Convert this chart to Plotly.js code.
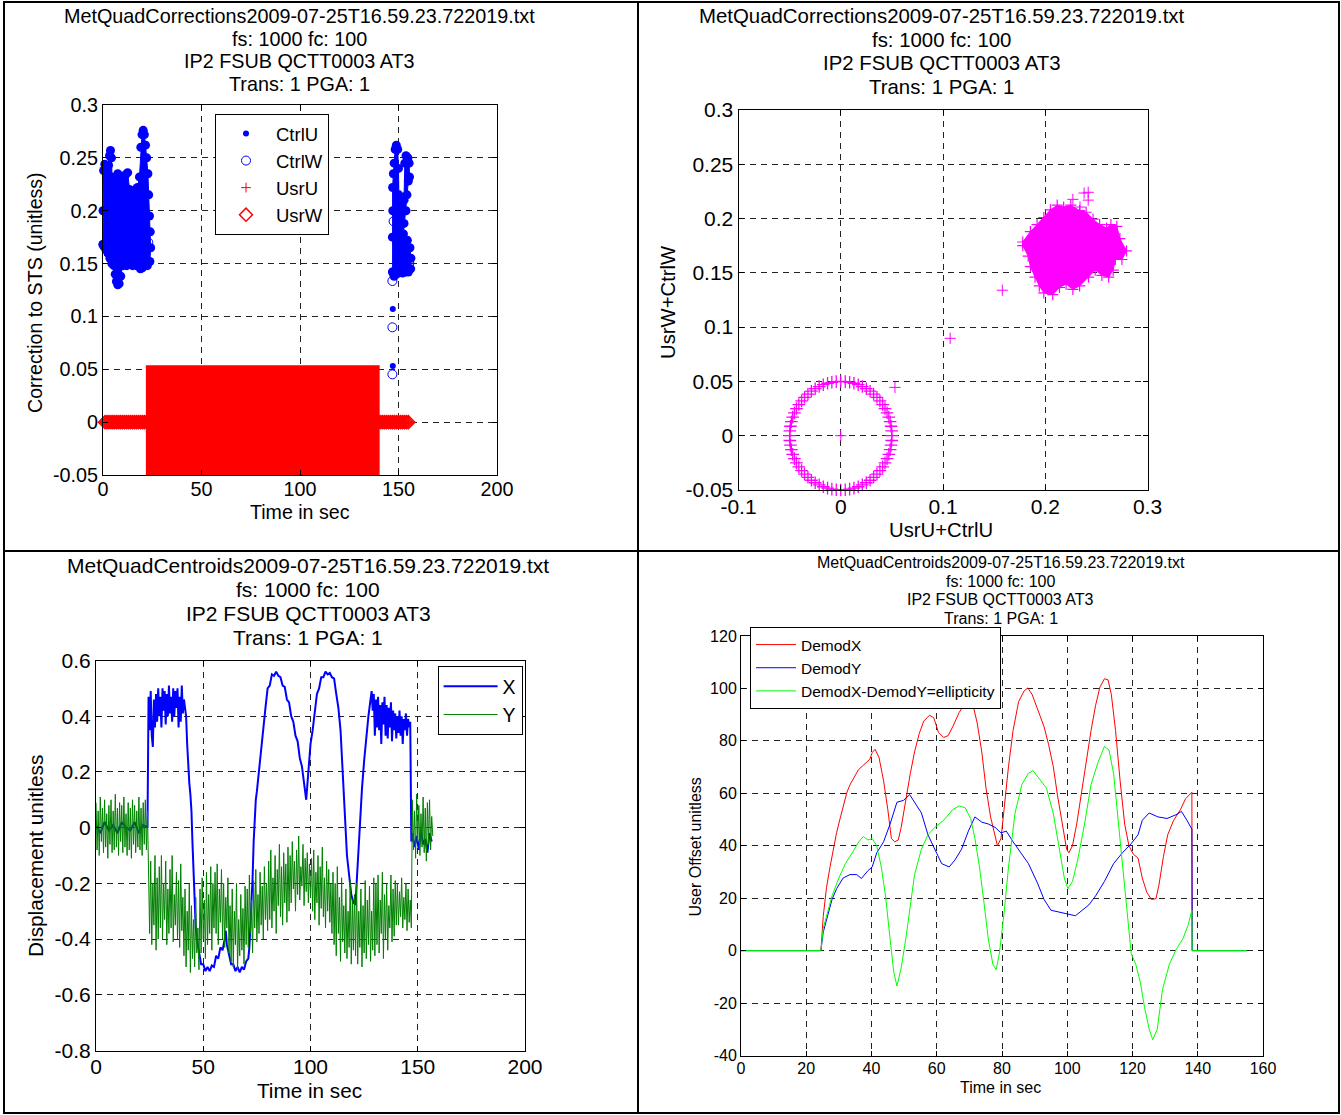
<!DOCTYPE html>
<html>
<head>
<meta charset="utf-8">
<script src="https://cdn.plot.ly/plotly-3.0.1.min.js"></script>
<style>
html,body{margin:0;padding:0;background:#fff;}
#chart{width:1341px;height:1115px;}
</style>
</head>
<body>
<div id="chart"></div>
<script>
// ================= DATA =================
const titleCorrections = ["MetQuadCorrections2009-07-25T16.59.23.722019.txt", "fs: 1000 fc: 100", "IP2 FSUB QCTT0003 AT3", "Trans: 1 PGA: 1"];
const titleCentroids = ["MetQuadCentroids2009-07-25T16.59.23.722019.txt", "fs: 1000 fc: 100", "IP2 FSUB QCTT0003 AT3", "Trans: 1 PGA: 1"];

// --- Panel 1: corrections vs time ---
// dense CtrlU cloud outlines (time, value)
const ctrlULeftT = [0, 0, 0.3, 0.9, 1.8, 2.8, 3.3, 3.8, 4.3, 4.6, 5.5, 6.5, 7.5, 8.5, 9.5, 10.5, 11.5, 12.5, 13.5, 14.5, 15.5, 16.5, 17.5, 18.5, 19.2, 19.8, 20.4, 21.0, 21.6, 22.2, 22.8, 23.2, 23.6, 24.0, 24.2, 23.8, 22.5, 21.0, 20.0, 19.0, 18.0, 17.0, 16.0, 15.0, 14.0, 13.0, 12.0, 11.0, 10.0, 9.0, 8.2, 7.5, 6.8, 6.2, 5.5, 4.5, 3.5, 2.5, 1.5, 0.5];
const ctrlULeftV = [0.168, 0.2, 0.238, 0.244, 0.24, 0.243, 0.252, 0.257, 0.25, 0.232, 0.226, 0.23, 0.235, 0.232, 0.226, 0.228, 0.234, 0.236, 0.22, 0.214, 0.21, 0.22, 0.222, 0.232, 0.26, 0.272, 0.276, 0.272, 0.262, 0.25, 0.235, 0.215, 0.195, 0.18, 0.165, 0.152, 0.148, 0.15, 0.146, 0.145, 0.15, 0.148, 0.152, 0.148, 0.15, 0.152, 0.148, 0.152, 0.148, 0.138, 0.131, 0.13, 0.133, 0.14, 0.148, 0.15, 0.155, 0.16, 0.163, 0.166];
const ctrlURightT = [147.0, 146.9, 147.1, 147.0, 147.4, 147.8, 148.3, 148.9, 149.6, 150.0, 150.2, 151.0, 152.2, 152.8, 153.2, 153.8, 154.8, 155.4, 155.6, 155.0, 154.3, 153.8, 152.8, 152.5, 154.5, 155.8, 156.3, 156.2, 155.0, 153.5, 152.0, 150.5, 149.0, 147.8];
const ctrlURightV = [0.142, 0.175, 0.2, 0.222, 0.235, 0.245, 0.258, 0.262, 0.258, 0.24, 0.215, 0.205, 0.2, 0.21, 0.245, 0.252, 0.25, 0.245, 0.232, 0.228, 0.215, 0.2, 0.188, 0.178, 0.172, 0.165, 0.155, 0.145, 0.142, 0.142, 0.141, 0.142, 0.14, 0.138];
const ctrlUIsoT = [147.1, 147.1];
const ctrlUIsoV = [0.107, 0.053];
const ctrlWT = [1, 3, 5, 7, 9, 11, 13, 15, 17, 19, 21, 23, 147.5, 148.5, 149.5, 150.5, 151.5, 152.5, 153.5, 154.5, 155.5, 146.9, 146.9, 146.9];
const ctrlWV = [0.2, 0.19, 0.18, 0.17, 0.19, 0.18, 0.17, 0.18, 0.19, 0.2, 0.18, 0.17, 0.19, 0.2, 0.21, 0.19, 0.17, 0.16, 0.16, 0.155, 0.15, 0.1335, 0.0897, 0.0452];
// UsrU / UsrW: fast oscillation span (start/end time, min/max value) and idle (zero) samples
const usrOscT = [23.8, 138.4];
const usrOscRange = [-0.05, 0.05];
const usrIdleT = [1, 2, 3, 4, 5, 6, 7, 8, 9, 10, 11, 12, 13, 14, 15, 16, 17, 18, 19, 20, 21, 22, 23, 139, 140, 141, 142, 143, 144, 145, 146, 147, 148, 149, 150, 151, 152, 153, 154, 155];
const usrUIdleV = [0, 0, 0, 0, 0, 0, 0, 0, 0, 0, 0, 0, 0, 0, 0, 0, 0, 0, 0, 0, 0, 0, 0, 0, 0, 0, 0, 0, 0, 0, 0, 0, 0, 0, 0, 0, 0, 0, 0, 0];
const usrWIdleV = [0, 0, 0, 0, 0, 0, 0, 0, 0, 0, 0, 0, 0, 0, 0, 0, 0, 0, 0, 0, 0, 0, 0, 0, 0, 0, 0, 0, 0, 0, 0, 0, 0, 0, 0, 0, 0, 0, 0, 0];

// --- Panel 2: UsrU+CtrlU vs UsrW+CtrlW ---
const sumRingU = [0.05,0.0498,0.0492,0.0483,0.047,0.0453,0.0433,0.041,0.0383,0.0354,0.0321,0.0287,0.025,0.0211,0.0171,0.0129,0.0087,0.0044,0,-0.0044,-0.0087,-0.0129,-0.0171,-0.0211,-0.025,-0.0287,-0.0321,-0.0354,-0.0383,-0.041,-0.0433,-0.0453,-0.047,-0.0483,-0.0492,-0.0498,-0.05,-0.0498,-0.0492,-0.0483,-0.047,-0.0453,-0.0433,-0.041,-0.0383,-0.0354,-0.0321,-0.0287,-0.025,-0.0211,-0.0171,-0.0129,-0.0087,-0.0044,0,0.0044,0.0087,0.0129,0.0171,0.0211,0.025,0.0287,0.0321,0.0354,0.0383,0.041,0.0433,0.0453,0.047,0.0483,0.0492,0.0498];
const sumRingW = [0,0.0044,0.0087,0.0129,0.0171,0.0211,0.025,0.0287,0.0321,0.0354,0.0383,0.041,0.0433,0.0453,0.047,0.0483,0.0492,0.0498,0.05,0.0498,0.0492,0.0483,0.047,0.0453,0.0433,0.041,0.0383,0.0354,0.0321,0.0287,0.025,0.0211,0.0171,0.0129,0.0087,0.0044,0,-0.0044,-0.0087,-0.0129,-0.0171,-0.0211,-0.025,-0.0287,-0.0321,-0.0354,-0.0383,-0.041,-0.0433,-0.0453,-0.047,-0.0483,-0.0492,-0.0498,-0.05,-0.0498,-0.0492,-0.0483,-0.047,-0.0453,-0.0433,-0.041,-0.0383,-0.0354,-0.0321,-0.0287,-0.025,-0.0211,-0.0171,-0.0129,-0.0087,-0.0044];
const sumCloudU = [0.178,0.1855,0.192,0.1986,0.205,0.2117,0.218,0.225,0.2336,0.24,0.2467,0.2532,0.26,0.2642,0.27,0.273,0.2795,0.275,0.2685,0.2664,0.262,0.2554,0.2488,0.2423,0.2336,0.227,0.2204,0.2139,0.2073,0.1986,0.1942,0.19,0.1855,0.1833,0.178];
const sumCloudW = [0.1784,0.188,0.1945,0.201,0.208,0.2123,0.2106,0.2123,0.2074,0.2058,0.1994,0.1945,0.1913,0.1945,0.1929,0.1816,0.1703,0.1623,0.1623,0.1526,0.1461,0.1477,0.1526,0.1461,0.138,0.1348,0.1397,0.1365,0.13,0.1316,0.138,0.1461,0.1558,0.1655,0.175];
const sumIsoU = [0, 0.053, 0.107, 0.158, 0.227, 0.234, 0.238, 0.242, 0.242];
const sumIsoW = [0, 0.0445, 0.0897, 0.134, 0.2177, 0.2106, 0.2235, 0.2242, 0.217];

// --- Panel 3: centroid displacement ---
const centroidX = [
[0,0.01],[2,-0.02],[4,0.02],[6,-0.01],[8,0.01],[10,-0.02],[12,0.02],[14,0],[16,-0.01],[18,0.02],[20,-0.02],[22,0.01],[24,0],
[24.2,0.4],
[24.5,0.47],[25,0.35],[25.5,0.49],[26,0.33],[26.5,0.29],[27,0.46],[27.5,0.36],[28,0.48],[28.5,0.38],[29,0.5],[29.5,0.4],[30,0.47],[30.5,0.36],[31,0.5],[31.5,0.42],[32,0.49],[32.5,0.37],[33,0.48],[33.5,0.4],[34,0.51],[34.5,0.41],[35,0.47],[35.5,0.38],[36,0.5],[36.5,0.4],[37,0.49],[37.5,0.43],[38,0.5],[38.5,0.36],[39,0.47],[39.5,0.38],[40,0.51],[40.5,0.41],[41,0.46],[41.5,0.43],
[42,0.4],[42.5,0.3],[43,0.2],[43.5,0.16],[44,0.12],[44.5,0.06],[45,-0.06],[45.5,-0.18],[46,-0.3],[46.5,-0.36],[47,-0.4],
[48,-0.44],[49,-0.49],[50,-0.49],[51,-0.515],[52,-0.5],[53,-0.515],[54,-0.495],[55,-0.5],[56,-0.46],[57,-0.47],[58,-0.43],[59,-0.44],[60,-0.4],[60.5,-0.37],[61,-0.42],
[62,-0.45],[63,-0.49],[64,-0.49],[65,-0.515],[66,-0.5],[67,-0.52],[68,-0.5],[69,-0.51],[70,-0.48],[71,-0.47],
[71.5,-0.43],[72,-0.35],[72.5,-0.25],[73,-0.18],[73.5,-0.05],[74,0.05],[74.5,0.1],[75,0.13],
[76,0.21],[77,0.27],[78,0.37],[79,0.43],[80,0.5],[81,0.51],[82,0.55],[83,0.545],[84,0.56],[85,0.545],[86,0.54],[87,0.51],[88,0.505],[89,0.46],[90,0.45],[91,0.4],[92,0.38],[93,0.33],[94,0.31],[95,0.25],[96,0.22],[97,0.15],
[97.5,0.12],[98,0.1],[98.5,0.15],[99,0.2],[99.5,0.25],[100,0.3],
[101,0.35],[102,0.41],[103,0.48],[104,0.5],[105,0.54],[106,0.54],[107,0.56],[108,0.55],[109,0.555],[110,0.54],[111,0.535],[112,0.48],[113,0.43],
[114,0.35],[114.5,0.27],[115,0.2],[115.5,0.1],[116,0.03],[116.5,-0.05],[117,-0.1],
[118,-0.17],[119,-0.24],[120,-0.27],[121,-0.275],[121.5,-0.2],[122,-0.13],[123,0],[124,0.14],[125,0.24],[126,0.33],[127,0.4],[128,0.46],
[128.5,0.49],[129,0.42],[129.5,0.48],[130,0.33],[130.5,0.46],[131,0.36],[131.5,0.47],[132,0.35],[132.5,0.44],[133,0.3],[133.5,0.45],[134,0.37],[134.5,0.47],[135,0.33],[135.5,0.44],[136,0.32],[136.5,0.43],[137,0.36],[137.5,0.45],[138,0.31],[138.5,0.42],[139,0.35],[139.5,0.41],[140,0.32],[140.5,0.4],[141,0.34],[141.5,0.42],[142,0.33],[142.5,0.4],[143,0.3],[143.5,0.39],[144,0.35],[144.5,0.41],[145,0.33],[145.5,0.39],[146,0.36],[146.5,0.38],
[147,-0.05],
[147.5,-0.02],[148.5,-0.07],[149.5,-0.03],[150.5,-0.08],[151.5,-0.01],[152.5,-0.06],[153.5,-0.04],[154.5,-0.09],[155.5,-0.02],[156.5,-0.05]
];
// Y sampled every 0.5 s from t = 0
const centroidYStep = 0.5;
const centroidY = [
0.09,-0.08,0.06,-0.1,0.11,-0.05,0.07,-0.09,0.1,-0.07,
0.05,-0.11,0.08,-0.06,0.1,-0.09,0.06,-0.08,0.12,-0.07,
0.07,-0.1,0.09,-0.05,0.08,-0.09,0.11,-0.07,0.05,-0.1,
0.09,-0.08,0.07,-0.11,0.1,-0.06,0.08,-0.09,0.06,-0.07,
0.11,-0.08,0.07,-0.1,0.09,-0.06,0.1,-0.08,0.06,
-0.15,-0.38,-0.12,-0.42,-0.2,-0.35,-0.1,-0.44,-0.18,-0.4,-0.14,-0.36,
-0.1,-0.4,-0.2,-0.33,-0.12,-0.42,-0.22,-0.38,-0.15,-0.36,-0.1,-0.41,-0.24,-0.35,-0.16,-0.4,-0.19,-0.43,-0.13,-0.37,
-0.25,-0.46,-0.22,-0.5,-0.3,-0.44,-0.2,-0.52,-0.28,-0.47,-0.33,-0.5,-0.25,-0.45,-0.36,-0.51,
-0.22,-0.45,-0.18,-0.4,-0.26,-0.47,-0.16,-0.42,-0.24,-0.38,-0.14,-0.44,-0.2,-0.36,
-0.16,-0.38,-0.13,-0.42,-0.22,-0.34,-0.15,-0.4,-0.2,-0.43,-0.25,-0.36,-0.18,-0.45,
-0.28,-0.48,-0.22,-0.5,-0.3,-0.42,-0.2,-0.51,-0.33,-0.46,-0.24,-0.44,-0.29,-0.49,-0.21,-0.42,
-0.22,-0.43,-0.17,-0.38,-0.26,-0.45,-0.19,-0.36,-0.15,-0.41,-0.24,-0.38,-0.16,-0.35,-0.21,-0.4,-0.14,-0.33,-0.2,-0.37,
-0.12,-0.33,-0.08,-0.36,-0.18,-0.3,-0.1,-0.38,-0.15,-0.28,-0.06,-0.32,-0.14,-0.35,-0.09,-0.27,-0.13,-0.34,-0.07,-0.3,
-0.1,-0.27,-0.05,-0.22,-0.12,-0.3,-0.08,-0.24,-0.03,-0.26,-0.14,-0.21,-0.06,-0.28,-0.11,-0.23,-0.09,-0.27,-0.13,-0.25,
-0.11,-0.3,-0.08,-0.33,-0.16,-0.27,-0.1,-0.35,-0.14,-0.29,-0.07,-0.32,-0.18,-0.36,-0.12,-0.3,-0.15,-0.34,-0.2,-0.38,
-0.16,-0.42,-0.2,-0.46,-0.14,-0.38,-0.25,-0.48,-0.18,-0.41,-0.28,-0.45,-0.22,-0.47,-0.3,-0.43,-0.19,-0.49,-0.26,-0.44,
-0.24,-0.46,-0.2,-0.49,-0.3,-0.43,-0.22,-0.5,-0.28,-0.45,-0.19,-0.47,-0.26,-0.42,-0.21,-0.48,-0.3,-0.44,-0.18,-0.46,
-0.2,-0.42,-0.17,-0.45,-0.26,-0.38,-0.16,-0.47,-0.24,-0.4,-0.2,-0.44,-0.28,-0.36,-0.17,-0.41,-0.22,-0.39,-0.19,-0.35,
-0.2,-0.35,-0.23,-0.32,-0.18,-0.36,-0.25,-0.33,-0.2,-0.37,-0.22,-0.34,-0.26,-0.36,
0.1,-0.08,0.06,-0.11,0.12,-0.05,0.08,-0.1,0.05,-0.07,0.11,-0.09,0.07,-0.12,0.09,-0.06,0.1,-0.08,0.04,-0.03
];

// --- Panel 4: demodulated offsets ---
const demodX = [[0,0],[24.5,0],[25.2,13],[26.2,24],[27.3,32],[28.3,39],[29.3,45],[30.5,51],[31.5,56],[32.5,60.5],[33.5,63.5],[34.8,66.5],[36,69],[37.3,70.5],[38.5,72],[39.5,73],[40.2,75.5],[41.1,76.8],[42.3,73.7],[43.7,64.8],[45,53.8],[46.1,42.8],[47.1,41.5],[48.2,42.2],[49.1,47],[50.5,58],[51.9,67.6],[53.2,75.8],[54.6,82.7],[56,87.5],[57.8,89.8],[59.1,88.8],[60.5,83.3],[62.1,81.3],[63.5,82],[64.9,85.4],[66.9,90.9],[68.7,94.3],[70.1,95.7],[71,94.3],[72.4,86.8],[73.8,75.8],[75.1,62],[76.5,51],[77.9,42.8],[78.6,40],[79.7,42.8],[80.6,53.8],[82,70.3],[83.4,84],[85.1,95],[86.8,99.1],[87.9,100.2],[89.2,97.8],[90.9,92.3],[92.9,85.4],[94.3,78.5],[95.7,70.3],[97,59.3],[98.4,48.3],[99.8,38.7],[100.5,37.3],[101.6,40],[102.9,48.3],[104.6,62],[105.9,73],[107.3,84],[108.7,93.6],[110,100.5],[111.4,103.7],[112.5,103.3],[113.5,97.8],[114.8,84],[116.2,64.8],[117.6,48.3],[118.9,40],[120.3,36.7],[121.7,35.3],[123,27.7],[124.4,22.2],[125.8,19.5],[127.2,19.8],[128.1,25],[129.5,36],[130.8,44.2],[132.6,49.7],[134.7,53.8],[136.3,58],[138.2,60.4],[138.3,0],[155,0]];
const demodY = [[0,0],[24.5,0],[25.2,7],[26.6,14],[27.9,19.5],[29.3,23.6],[31.3,27.7],[33.4,29],[35.5,29],[36.9,27.5],[38.9,30.5],[40.2,31.9],[41.6,37.3],[43.7,41.5],[45.7,48.3],[47.8,56.6],[49.8,57.3],[51.7,59.5],[53.2,56.6],[55.3,52.5],[57.3,44.2],[59.4,38.7],[61.5,33.2],[63.8,31.9],[65.6,34.6],[67.6,38.7],[69.7,45.6],[71.7,51],[73.8,49],[75.8,48.3],[77.9,47],[79.7,44.9],[81.3,45.6],[83.4,41.5],[85.4,38],[88.1,33.2],[90.9,25.7],[92.9,19.5],[95,15.4],[97.7,14.7],[100.5,13.7],[102.5,13.3],[104.6,15.4],[106.6,17.4],[108.7,20.9],[111.4,26.4],[114.2,33.2],[116.9,37.3],[119.6,40.8],[121.7,44.2],[123,49.7],[125.1,52.5],[127.8,51],[130.6,50.4],[133.3,51.8],[135,53.1],[136.7,49.7],[138.2,46.3],[138.3,0],[155,0]];
const demodEllip = [[0,0],[24.5,0],[25.2,8.5],[26.6,15.4],[27.9,20.9],[30,27.7],[32,33.2],[34.1,37.3],[36.1,41.5],[37.5,43.5],[38.9,42.2],[40.2,42.8],[41.6,40],[43,31.9],[44.3,20.9],[45.7,4.4],[46.8,-8],[47.8,-13.5],[49.1,-6.6],[50.5,4.4],[51.9,16.8],[53.2,29],[55.3,38.7],[57.3,44.2],[59.4,47],[62.1,49.7],[64.9,53.8],[66.9,55.2],[68.7,54.5],[70.4,50.4],[71.7,42.8],[73.1,31.9],[74.5,18.1],[75.8,4.4],[77.2,-5.2],[78.2,-7.3],[79.2,-1.1],[80.6,14],[82,31.9],[84,52.5],[86.1,63.4],[88.1,67.6],[89.5,68.7],[91.6,65.5],[93.6,62],[95.7,52.5],[97.7,38.7],[99.1,27.7],[100.2,23.6],[101.6,26.4],[103.2,34.6],[105.3,48.3],[107.3,63.4],[109.4,71.7],[111.4,77.9],[112.8,76.5],[114.2,67.6],[115.5,51],[116.9,31.9],[118.3,12.6],[119.6,-1.1],[121,-5.2],[122.4,-12.1],[123.7,-21.7],[125.1,-29.9],[126.2,-34],[127.6,-29.9],[129.2,-14.8],[131.3,-5.2],[133.3,0.3],[135.4,4.4],[137.1,9.9],[138.2,15.4],[138.3,0],[155,0]];

// tick values / labels
const tlXTicks = [0, 50, 100, 150, 200];
const tlXLabels = ["0", "50", "100", "150", "200"];
const corrYTicks = [-0.05, 0, 0.05, 0.1, 0.15, 0.2, 0.25, 0.3];
const corrYLabels = ["-0.05", "0", "0.05", "0.1", "0.15", "0.2", "0.25", "0.3"];
const trXTicks = [-0.1, 0, 0.1, 0.2, 0.3];
const trXLabels = ["-0.1", "0", "0.1", "0.2", "0.3"];
const blYTicks = [-0.8, -0.6, -0.4, -0.2, 0, 0.2, 0.4, 0.6];
const blYLabels = ["-0.8", "-0.6", "-0.4", "-0.2", "0", "0.2", "0.4", "0.6"];
const brXTicks = [0, 20, 40, 60, 80, 100, 120, 140, 160];
const brXLabels = ["0", "20", "40", "60", "80", "100", "120", "140", "160"];
const brYTicks = [-40, -20, 0, 20, 40, 60, 80, 100, 120];
const brYLabels = ["-40", "-20", "0", "20", "40", "60", "80", "100", "120"];

// ================= LAYOUT HELPERS =================
const W = 1341, H = 1115;
const FONT = 'Liberation Sans, Arial, Helvetica, sans-serif';
const px = v => v / W;
const py = v => 1 - v / H;
const BLUE = '#0000ff', RED = '#ff0000', MAG = '#ff00ff', DGREEN = '#008000', LGREEN = '#00ff00';

function axis(domain, range, tickvals, ticktext, size, anchor, standoff) {
  const a = {
    domain: domain, range: range, anchor: anchor,
    tickmode: 'array', tickvals: tickvals, ticktext: ticktext,
    tickfont: {family: FONT, size: size, color: '#000'},
    showgrid: true, gridcolor: '#222', gridwidth: 1, griddash: '6px,5px',
    zeroline: false, showline: true, linecolor: '#000', linewidth: 1, mirror: 'ticks',
    ticks: 'inside', ticklen: 5, tickcolor: '#000', fixedrange: true
  };
  if (standoff !== undefined) a.ticklabelstandoff = standoff;
  return a;
}
function textLines(lines, cx, ys, size) {
  return lines.map((t, i) => ({
    text: t, x: px(cx), y: py(ys[i]), xref: 'paper', yref: 'paper',
    xanchor: 'center', yanchor: 'middle', showarrow: false,
    font: {family: FONT, size: size, color: '#000'}
  }));
}
function label(t, cx, cy, size, angle) {
  return {text: t, x: px(cx), y: py(cy), xref: 'paper', yref: 'paper', xanchor: 'center', yanchor: 'middle',
    showarrow: false, textangle: angle || 0, font: {family: FONT, size: size, color: '#000'}};
}
const firsts = a => a.map(p => p[0]);
const seconds = a => a.map(p => p[1]);

// ================= TRACES =================
const traces = [];
// Panel 1
traces.push({ // oscillating UsrU/UsrW span
  x: [usrOscT[0], usrOscT[0], usrOscT[1], usrOscT[1], usrOscT[0]],
  y: [usrOscRange[0], usrOscRange[1], usrOscRange[1], usrOscRange[0], usrOscRange[0]],
  mode: 'lines', fill: 'toself', fillcolor: RED, line: {color: RED, width: 8},
  showlegend: false, xaxis: 'x', yaxis: 'y', hoverinfo: 'skip'
});
[[ctrlULeftT, ctrlULeftV], [ctrlURightT, ctrlURightV]].forEach(([t, v]) => {
  traces.push({
    x: t.concat([t[0]]), y: v.concat([v[0]]), mode: 'lines+markers', fill: 'toself', fillcolor: BLUE,
    line: {color: BLUE, width: 1}, marker: {symbol: 'circle', size: 9, color: BLUE},
    cliponaxis: false, showlegend: false, xaxis: 'x', yaxis: 'y', hoverinfo: 'skip'
  });
});
traces.push({x: ctrlUIsoT, y: ctrlUIsoV, name: 'CtrlU', mode: 'markers',
  marker: {symbol: 'circle', size: 6, color: BLUE}, cliponaxis: false, xaxis: 'x', yaxis: 'y', legend: 'legend'});
traces.push({x: ctrlWT, y: ctrlWV, name: 'CtrlW', mode: 'markers',
  marker: {symbol: 'circle-open', size: 9, color: BLUE, line: {color: BLUE, width: 1}}, cliponaxis: false, xaxis: 'x', yaxis: 'y', legend: 'legend'});
traces.push({x: usrIdleT, y: usrUIdleV, name: 'UsrU', mode: 'markers',
  marker: {symbol: 'cross-thin-open', size: 7, color: RED, line: {color: RED, width: 1}}, cliponaxis: false, xaxis: 'x', yaxis: 'y', legend: 'legend'});
traces.push({x: usrIdleT, y: usrWIdleV, name: 'UsrW', mode: 'markers',
  marker: {symbol: 'diamond-open', size: 10, color: RED, line: {color: RED, width: 1.5}}, cliponaxis: false, xaxis: 'x', yaxis: 'y', legend: 'legend'});

// Panel 2
traces.push({x: sumCloudU, y: sumCloudW, mode: 'lines+markers', fill: 'toself', fillcolor: MAG,
  line: {color: MAG, width: 1}, marker: {symbol: 'cross-thin-open', size: 8, color: MAG, line: {color: MAG, width: 1.2}},
  showlegend: false, xaxis: 'x2', yaxis: 'y2', hoverinfo: 'skip'});
traces.push({x: sumRingU, y: sumRingW, mode: 'markers',
  marker: {symbol: 'cross-thin-open', size: 9, color: MAG, line: {color: MAG, width: 1.3}},
  cliponaxis: false, showlegend: false, xaxis: 'x2', yaxis: 'y2'});
traces.push({x: sumIsoU, y: sumIsoW, mode: 'markers',
  marker: {symbol: 'cross-thin-open', size: 8, color: MAG, line: {color: MAG, width: 1}},
  cliponaxis: false, showlegend: false, xaxis: 'x2', yaxis: 'y2'});

// Panel 3
traces.push({x: firsts(centroidX), y: seconds(centroidX), name: 'X', mode: 'lines',
  line: {color: BLUE, width: 2}, xaxis: 'x3', yaxis: 'y3', legend: 'legend2'});
traces.push({x: centroidY.map((v, i) => i * centroidYStep), y: centroidY, name: 'Y', mode: 'lines',
  line: {color: DGREEN, width: 1}, xaxis: 'x3', yaxis: 'y3', legend: 'legend2'});

// Panel 4
traces.push({x: firsts(demodX), y: seconds(demodX), name: 'DemodX', mode: 'lines',
  line: {color: RED, width: 1}, xaxis: 'x4', yaxis: 'y4', legend: 'legend3'});
traces.push({x: firsts(demodY), y: seconds(demodY), name: 'DemodY', mode: 'lines',
  line: {color: BLUE, width: 1}, xaxis: 'x4', yaxis: 'y4', legend: 'legend3'});
traces.push({x: firsts(demodEllip), y: seconds(demodEllip), name: 'DemodX-DemodY=ellipticity', mode: 'lines',
  line: {color: LGREEN, width: 1}, xaxis: 'x4', yaxis: 'y4', legend: 'legend3'});

// ================= LAYOUT =================
function legendBox(xp, yp, size, itemwidth) {
  return {x: px(xp), y: py(yp), xref: 'paper', yref: 'paper', xanchor: 'left', yanchor: 'top',
    bgcolor: '#fff', bordercolor: '#000', borderwidth: 1, itemwidth: itemwidth,
    font: {family: FONT, size: size, color: '#000'}, tracegroupgap: 0};
}

const annotations = [].concat(
  textLines(titleCorrections, 299, [16, 39, 61.5, 84.5], 19.8),
  textLines(titleCorrections, 942, [16, 40, 63, 86.5], 20.4),
  textLines(titleCentroids, 308, [565, 589, 613, 637], 21),
  textLines(titleCentroids, 1000.5, [562, 581, 599.5, 618], 16),
  [
    label('Time in sec', 300, 512, 19.6),
    label('Correction to STS (unitless)', 35, 293, 19.6, -90),
    label('UsrU+CtrlU', 941, 530, 20.3),
    label('UsrW+CtrlW', 668, 302, 20.3, -90),
    label('Time in sec', 309, 1090, 20.7),
    label('Displacement unitless', 35, 856, 20.8, -90),
    label('Time in sec', 1000.7, 1087, 16),
    label('User Offset unitless', 694.5, 847, 16, -90)
  ]
);

const frameLine = {color: '#000', width: 2};
const shapes = [
  {type: 'rect', xref: 'paper', yref: 'paper', x0: px(4), x1: px(1339), y0: py(1113), y1: py(2), line: frameLine},
  {type: 'line', xref: 'paper', yref: 'paper', x0: px(638), x1: px(638), y0: py(1113), y1: py(2), line: frameLine},
  {type: 'line', xref: 'paper', yref: 'paper', x0: px(4), x1: px(1339), y0: py(551), y1: py(551), line: frameLine}
];

const layout = {
  width: W, height: H, margin: {l: 0, r: 0, t: 0, b: 0},
  paper_bgcolor: '#fff', plot_bgcolor: '#fff',
  font: {family: FONT, color: '#000'},
  hovermode: false,
  xaxis: axis([px(103), px(497)], [0, 200], tlXTicks, tlXLabels, 19.8, 'y', -4),
  yaxis: axis([py(475), py(105)], [-0.05, 0.3], corrYTicks, corrYLabels, 19.8, 'x'),
  xaxis2: axis([px(738.5), px(1147.5)], [-0.1, 0.3], trXTicks, trXLabels, 21, 'y2', -2),
  yaxis2: axis([py(490), py(110)], [-0.05, 0.3], corrYTicks, corrYLabels, 21, 'x2'),
  xaxis3: axis([px(96), px(525)], [0, 200], tlXTicks, tlXLabels, 21, 'y3', -3),
  yaxis3: axis([py(1050.5), py(660.5)], [-0.8, 0.6], blYTicks, blYLabels, 21, 'x3'),
  xaxis4: axis([px(741), px(1263)], [0, 160], brXTicks, brXLabels, 16, 'y4', -2),
  yaxis4: axis([py(1055.5), py(636)], [-40, 120], brYTicks, brYLabels, 16, 'x4'),
  legend: legendBox(215, 114, 18.5, 50),
  legend2: legendBox(437.6, 666, 19.5, 54),
  legend3: legendBox(750, 627, 15.5, 40),
  annotations: annotations,
  shapes: shapes
};

Plotly.newPlot('chart', traces, layout, {displayModeBar: false, staticPlot: true});
</script>
</body>
</html>
